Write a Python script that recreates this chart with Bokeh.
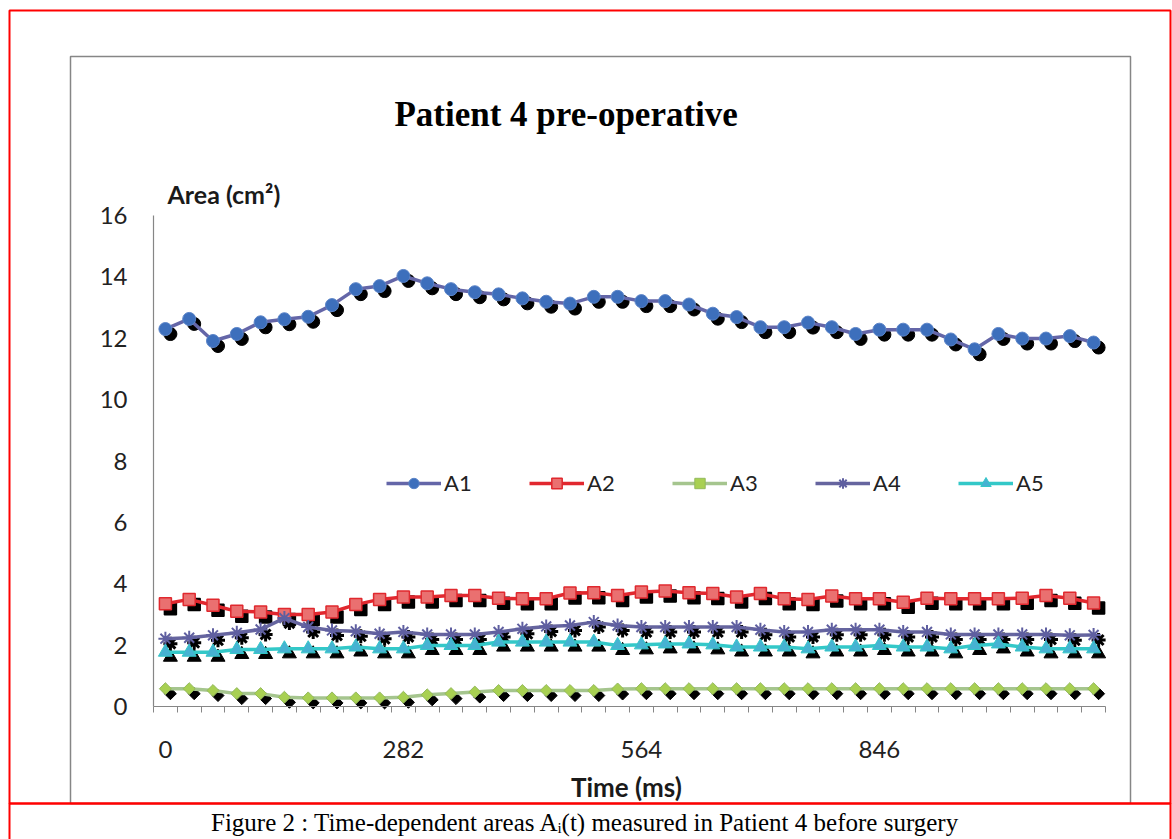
from bokeh.plotting import figure
from bokeh.models import Range1d, FixedTicker, Label, BoxAnnotation, Legend, LegendItem
from bokeh.embed import file_html
from bokeh.resources import INLINE

# ---------------- data ----------------
time_ms = [0.0, 28.2, 56.4, 84.6, 112.8, 141.0, 169.2, 197.4, 225.6, 253.8,
           282.0, 310.2, 338.4, 366.6, 394.8, 423.0, 451.2, 479.4, 507.6, 535.8,
           564.0, 592.2, 620.4, 648.6, 676.8, 705.0, 733.2, 761.4, 789.6, 817.8,
           846.0, 874.2, 902.4, 930.6, 958.8, 987.0, 1015.2, 1043.4, 1071.6, 1099.8]

area_A1 = [12.30, 12.63, 11.91, 12.14, 12.52, 12.62, 12.70, 13.08, 13.60, 13.70,
           14.03, 13.79, 13.60, 13.50, 13.43, 13.30, 13.19, 13.13, 13.35, 13.35,
           13.21, 13.21, 13.10, 12.80, 12.69, 12.36, 12.36, 12.51, 12.36, 12.14,
           12.28, 12.28, 12.28, 11.96, 11.64, 12.14, 11.99, 11.99, 12.07, 11.86]
area_A2 = [3.35, 3.49, 3.30, 3.10, 3.08, 3.00, 3.00, 3.08, 3.32, 3.49,
           3.57, 3.57, 3.62, 3.62, 3.53, 3.51, 3.51, 3.70, 3.71, 3.62,
           3.73, 3.76, 3.71, 3.68, 3.57, 3.68, 3.51, 3.49, 3.60, 3.51,
           3.51, 3.40, 3.53, 3.51, 3.51, 3.51, 3.53, 3.62, 3.53, 3.37]
area_A3 = [0.58, 0.58, 0.52, 0.42, 0.42, 0.30, 0.28, 0.28, 0.28, 0.28,
           0.30, 0.38, 0.42, 0.47, 0.52, 0.52, 0.52, 0.52, 0.52, 0.57,
           0.58, 0.58, 0.58, 0.58, 0.58, 0.58, 0.58, 0.58, 0.58, 0.58,
           0.58, 0.58, 0.58, 0.58, 0.58, 0.58, 0.58, 0.58, 0.58, 0.58]
area_A4 = [2.21, 2.24, 2.32, 2.40, 2.51, 2.88, 2.59, 2.48, 2.45, 2.37,
           2.43, 2.35, 2.35, 2.35, 2.43, 2.53, 2.61, 2.64, 2.75, 2.64,
           2.59, 2.59, 2.59, 2.59, 2.59, 2.50, 2.43, 2.43, 2.50, 2.50,
           2.50, 2.43, 2.43, 2.35, 2.35, 2.35, 2.35, 2.35, 2.32, 2.33]
area_A5 = [1.77, 1.77, 1.77, 1.86, 1.86, 1.88, 1.88, 1.88, 1.94, 1.88,
           1.88, 1.99, 1.99, 1.99, 2.10, 2.10, 2.10, 2.10, 2.10, 1.99,
           2.01, 2.04, 2.04, 2.01, 1.94, 1.94, 1.94, 1.88, 1.94, 1.94,
           1.99, 1.94, 1.94, 1.88, 1.99, 2.04, 1.94, 1.88, 1.88, 1.88]

series_names = ["A1", "A2", "A3", "A4", "A5"]
y_ticks = [0, 2, 4, 6, 8, 10, 12, 14, 16]
x_tick_values = [0, 282, 564, 846]
x_tick_labels = ["0", "282", "564", "846"]

title_text = "Patient 4  pre-operative"
y_title = "Area (cm²)"
x_title = "Time  (ms)"
caption = "Figure 2 : Time-dependent areas Aᵢ(t) measured in Patient 4 before surgery"

# ---------------- layout ----------------
W, H = 1172, 839
PL, PR, PT, PB = 153, 1105, 215, 706      # plot area (axes box) in page px
step = time_ms[1] - time_ms[0]
x0, x1 = time_ms[0] - step / 2, time_ms[-1] + step / 2
y0, y1 = 0, 16

def dx(px):   # page px -> data x
    return x0 + (px - PL) / (PR - PL) * (x1 - x0)

def dy(py):   # page py -> data y
    return y0 + (PB - py) / (PB - PT) * (y1 - y0)

p = figure(width=W, height=H, output_backend="svg", toolbar_location=None,
           x_range=Range1d(dx(0), dx(W)), y_range=Range1d(dy(H), dy(0)),
           min_border_left=0, min_border_right=0, min_border_top=0, min_border_bottom=0)
p.outline_line_color = None
p.xgrid.visible = False
p.ygrid.visible = False
p.background_fill_color = "white"
p.border_fill_color = "white"

AX = "#868686"
TICK_FONT = "Lato"

p.yaxis.fixed_location = x0
p.yaxis.bounds = (y0, y1)
p.yaxis.ticker = FixedTicker(ticks=y_ticks)
p.yaxis.major_tick_out = 0
p.yaxis.major_tick_in = 0
p.yaxis.minor_tick_out = 0
p.yaxis.minor_tick_in = 0
p.yaxis.axis_line_color = AX
p.yaxis.axis_line_width = 1.2
p.yaxis.major_label_standoff = 26
p.yaxis.major_label_text_font = TICK_FONT
p.yaxis.major_label_text_font_size = "24px"
p.yaxis.major_label_text_color = "#222222"

bounds = [t - step / 2 for t in time_ms] + [time_ms[-1] + step / 2]
p.xaxis.fixed_location = y0
p.xaxis.bounds = (x0, x1)
p.xaxis.ticker = FixedTicker(ticks=x_tick_values, minor_ticks=bounds)
p.xaxis.major_label_overrides = {v: s for v, s in zip(x_tick_values, x_tick_labels)}
p.xaxis.major_tick_out = 0
p.xaxis.major_tick_in = 0
p.xaxis.minor_tick_out = 6
p.xaxis.minor_tick_in = 0
p.xaxis.minor_tick_line_color = AX
p.xaxis.axis_line_color = AX
p.xaxis.axis_line_width = 1.2
p.xaxis.major_label_standoff = 28
p.xaxis.major_label_text_font = TICK_FONT
p.xaxis.major_label_text_font_size = "24px"
p.xaxis.major_label_text_color = "#222222"

# ---------------- frames ----------------
p.add_layout(BoxAnnotation(left=dx(70), right=dx(1130), top=dy(56), bottom=dy(803),
                           fill_color=None, line_color=AX, line_alpha=1, line_width=1.5,
                           level="underlay"))
p.add_layout(BoxAnnotation(left=dx(9), right=dx(1170), top=dy(10), bottom=dy(803),
                           fill_color=None, line_color="#ff0000", line_alpha=1, line_width=2))
p.add_layout(BoxAnnotation(left=dx(9), right=dx(1170), top=dy(803), bottom=dy(900),
                           fill_color=None, line_color="#ff0000", line_alpha=1, line_width=2))

# ---------------- series ----------------
styles = [
    dict(data=area_A1, line="#6466A8", marker="circle", size=13, fill="#3D6FBC", edge="#5B84C8", lw=1, angle=0),
    dict(data=area_A2, line="#E1282F", marker="square", size=12, fill="#EA7070", edge="#E0282E", lw=1.5, angle=0),
    dict(data=area_A3, line="#A5C58E", marker="square", size=8.5, fill="#A8D052", edge="#93B95C", lw=1, angle=0.785398),
    dict(data=area_A4, line="#66659F", marker="asterisk", size=14, fill="#5F5FA0", edge="#5F5FA0", lw=2, angle=0),
    dict(data=area_A5, line="#33C8C8", marker="triangle", size=14, fill="#46B2D2", edge="#33C8C8", lw=1, angle=0),
]

sx = 5 / (PR - PL) * (x1 - x0)
sy = 5 / (PB - PT) * (y1 - y0)

# shadows first
for st in styles:
    p.scatter([t + sx for t in time_ms], [v - sy for v in st["data"]],
              marker=st["marker"], size=st["size"], angle=st["angle"],
              fill_color="black", line_color="black",
              line_width=st["lw"] + (1 if st["marker"] == "asterisk" else 0))

items = []
for name, st in zip(series_names, styles):
    lr = p.line(time_ms, st["data"], line_color=st["line"], line_width=3.5)
    mr = p.scatter(time_ms, st["data"], marker=st["marker"], size=st["size"], angle=st["angle"],
                   fill_color=st["fill"], line_color=st["edge"], line_width=st["lw"])
    items.append(LegendItem(label=name, renderers=[lr, mr]))

legend = Legend(items=items, location=(386, H - 496), orientation="horizontal",
                glyph_width=55, glyph_height=26, label_height=26, label_standoff=3,
                label_width=40, spacing=45, padding=0, margin=0,
                border_line_color=None, background_fill_alpha=0,
                label_text_font=TICK_FONT, label_text_font_size="22px",
                label_text_color="#222222")
p.add_layout(legend)

# ---------------- texts ----------------
p.add_layout(Label(x=dx(570), y=dy(114), text=title_text, text_align="center",
                   text_baseline="middle", text_font="Liberation Serif",
                   text_font_style="bold", text_font_size="35px", text_color="black"))
p.add_layout(Label(x=dx(167), y=dy(193), text=y_title, text_align="left",
                   text_baseline="middle", text_font="Lato", text_font_style="bold",
                   text_font_size="25px", text_color="#1a1a1a"))
p.add_layout(Label(x=dx(629), y=dy(786), text=x_title, text_align="center",
                   text_baseline="middle", text_font="Lato", text_font_style="bold",
                   text_font_size="26px", text_color="#1a1a1a"))
p.add_layout(Label(x=dx(585), y=dy(822), text=caption, text_align="center",
                   text_baseline="middle", text_font="Liberation Serif",
                   text_font_size="25px", text_color="black"))

open("out.html", "w").write(file_html(p, INLINE))
